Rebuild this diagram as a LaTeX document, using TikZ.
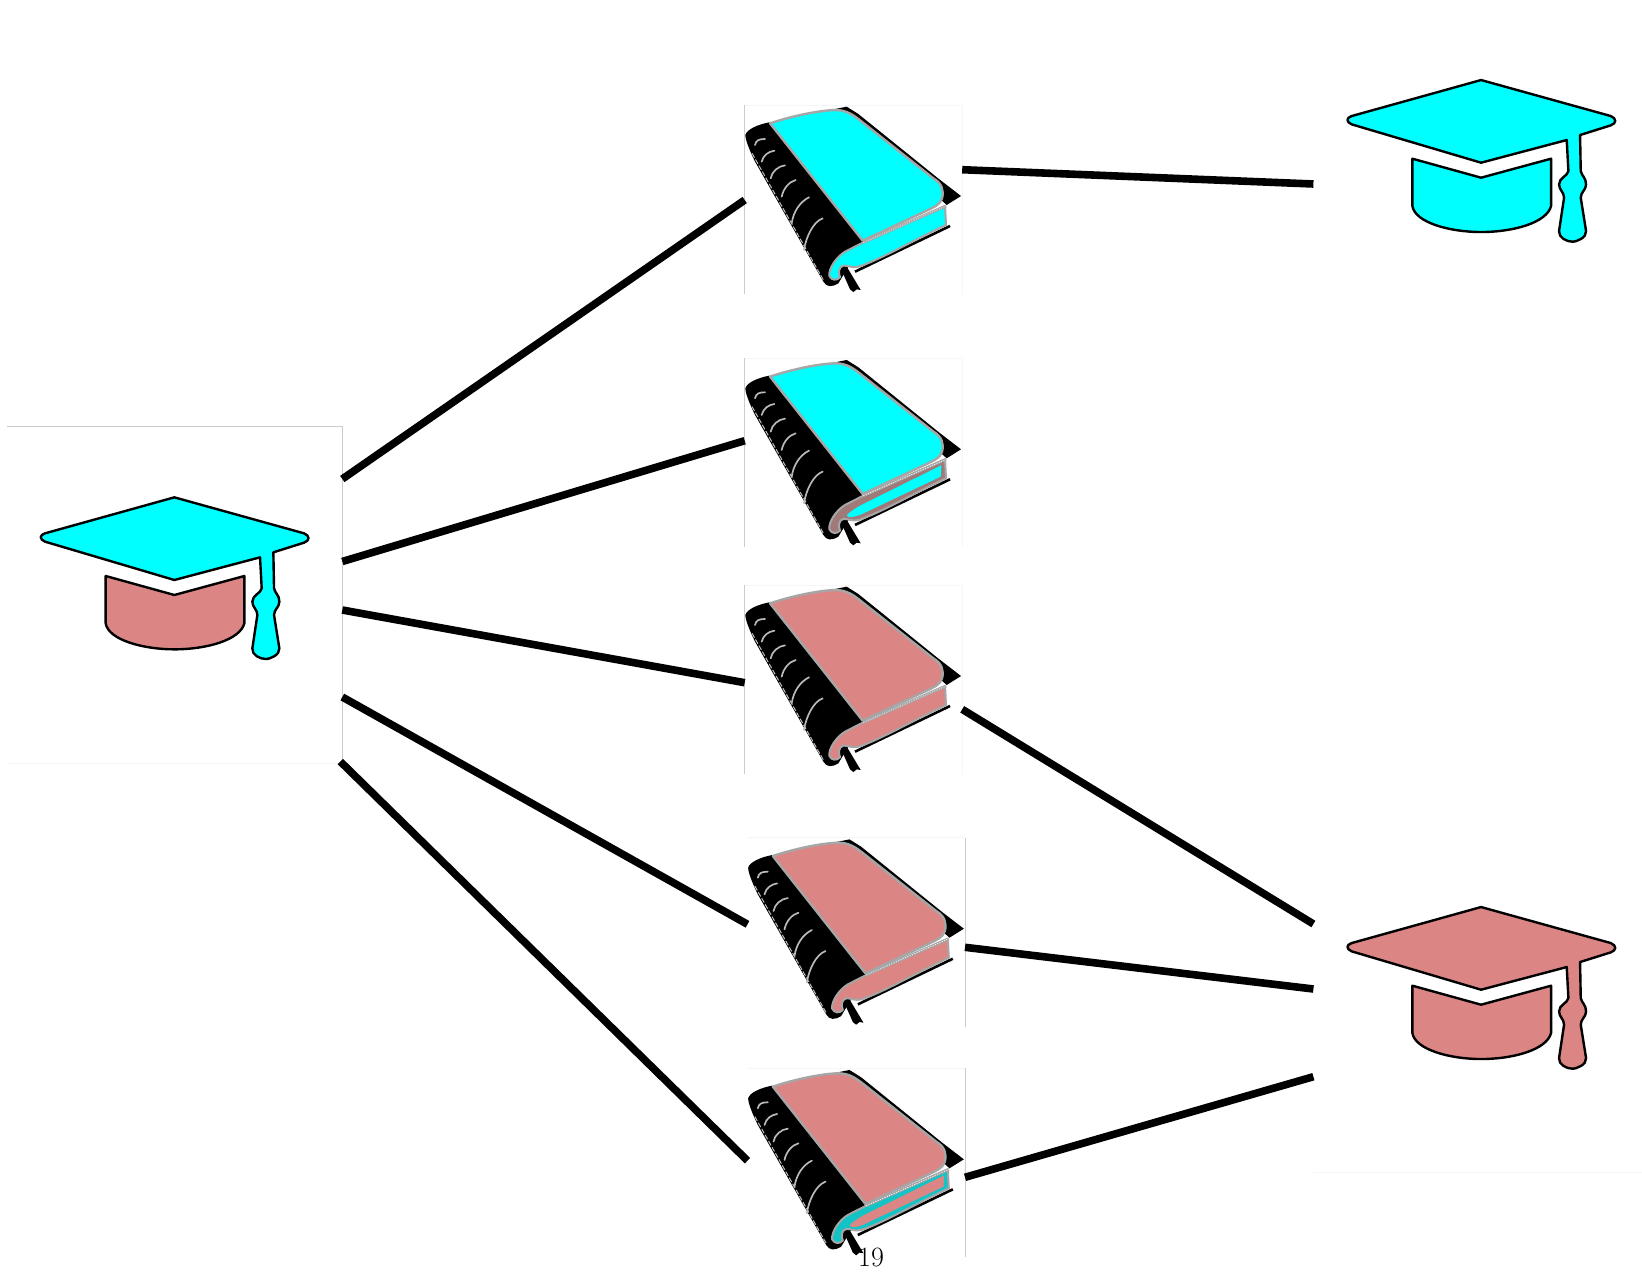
\documentclass[tikz,border=0pt]{standalone}
\usetikzlibrary{calc}
\definecolor{capcyan}{HTML}{00FFFF}
\definecolor{cappink}{HTML}{DC8585}
\definecolor{capbrown}{HTML}{A07A78}
\definecolor{capteal}{HTML}{12C4C6}
\tikzset{
  iconbox/.style={fill=white,draw=none,inner sep=0pt,outer sep=0pt,anchor=north west},
  hatbox/.style={iconbox,minimum height=337pt},
  bookbox/.style={iconbox,minimum width=217.5pt,minimum height=189pt},
  edgeline/.style={draw=gray!40,line width=.8pt},
  faintline/.style={draw=gray!7,line width=.8pt},
  link/.style={draw=black,line width=7.6pt},
  capline/.style={draw=black,line width=2.4pt,line join=round},
  pagenum/.style={font=\fontsize{28}{32}\selectfont,inner sep=0pt}
}
% #1 node, #2 board and tassel colour, #3 base colour
\newcommand{\hatdraw}[3]{%
  \begin{scope}[shift={(#1.north west)},scale=1/3,shift={(-20,-18)}]
    \path[capline,fill=#2] (523,232) -- (912,340) .. controls (930,347) and (930,362) .. (912,368)
      -- (820,397) -- (822,505) .. controls (825,520) and (838,525) .. (838,545)
      .. controls (838,562) and (822,568) .. (822,585) -- (838,685)
      .. controls (840,705) and (810,717) .. (797,717) .. controls (780,717) and (755,705) .. (757,685)
      -- (772,585) .. controls (772,568) and (757,562) .. (757,545)
      .. controls (757,525) and (783,520) .. (785,505) -- (780,412) -- (523,480) -- (135,365)
      .. controls (118,358) and (118,345) .. (135,340) -- cycle;
    \path[capline,fill=#3] (317,468) -- (523,525) -- (733,468) -- (733,610)
      .. controls (720,660) and (620,688) .. (523,688)
      .. controls (430,688) and (325,660) .. (317,610) -- cycle;
  \end{scope}}
% #1 node, #2 cover, #3 outer page, #4 inner page
\newcommand{\bookdraw}[4]{%
  \begin{scope}[shift={(#1.north west)},scale=1/3,shift={(-44,-45)}]
    \fill[black] (118,97) .. controls (85,103) and (50,118) .. (46,135)
      .. controls (45,150) and (65,195) .. (75,215) -- (280,575)
      .. controls (290,592) and (305,592) .. (325,580) -- (400,455) -- cycle;
    \fill[black] (300,60) -- (350,50) -- (385,72) -- (628,268) -- (693,318) -- (650,345) -- (600,300) -- cycle;
    \draw[gray!50,line width=1pt,dash pattern=on 5pt off 2pt] (66,190) -- (280,570);
    \foreach \a/\b/\c/\d/\e/\f/\g/\h in {
      75/165/78/150/88/147/105/147,
      95/215/100/195/115/185/133/182,
      122/265/125/245/145/228/165/226,
      155/320/160/295/178/275/197/270,
      185/400/190/365/210/335/237/322,
      222/480/228/440/250/395/278/385}
      \draw[gray!55,line width=1.7pt,line cap=round] (\a,\b) .. controls (\c,\d) and (\e,\f) .. (\g,\h);
    \draw[black,line width=2.6pt] (375,545) -- (660,408);
    \fill[black] (330,530) -- (350,530) -- (392,600) -- (380,598) -- (370,606) -- (360,598) -- cycle;
    \path[draw=gray!70,line width=2pt,line join=round,fill=#3] (645,348) -- (648,405)
      .. controls (560,445) and (450,510) .. (385,530)
      .. controls (365,535) and (350,525) .. (340,527)
      .. controls (325,530) and (325,550) .. (330,562)
      .. controls (320,572) and (305,572) .. (298,558)
      .. controls (295,535) and (320,500) .. (345,485) -- (398,458) -- cycle;
    \fill[#4] (634,366) -- (632,400) -- (390,515) .. controls (370,522) and (355,525) .. (350,516)
      .. controls (360,505) and (380,492) .. (400,482) -- cycle;
    \draw[gray!70,line width=2.8pt] (400,457) -- (648,348);
    \draw[white,line width=.7pt,dash pattern=on 1pt off 1.5pt] (400,457) -- (648,348);
    \path[draw=gray!70,line width=2.4pt,line join=round,fill=#2] (120,100)
      .. controls (180,80) and (260,62) .. (315,60)
      .. controls (350,60) and (370,75) .. (395,95) -- (610,265)
      .. controls (635,280) and (642,300) .. (636,325)
      .. controls (630,345) and (610,352) .. (590,362) -- (398,452) -- cycle;
  \end{scope}}
\begin{document}
\begin{tikzpicture}[x=1pt,y=-1pt]
  \useasboundingbox (0,0) rectangle (1642,1277);
  \fill[white] (0,0) rectangle (1642,1277);
  % icon frames
  \node[hatbox,minimum width=335.6pt] (hatL) at (6.7,426) {};
  \node[hatbox,minimum width=328.6pt] (hatA) at (1313.4,8.7) {};
  \node[hatbox,minimum width=328.6pt] (hatB) at (1313.4,835.7) {};
  \node[bookbox] (bookA) at (744.7,105) {};
  \node[bookbox] (bookB) at (744.7,358.3) {};
  \node[bookbox] (bookC) at (744.7,585) {};
  \node[bookbox] (bookD) at (747.5,837.7) {};
  \node[bookbox] (bookE) at (747.5,1068.3) {};
  % frame edges
  \draw[edgeline] (hatL.north west) -- (hatL.north east) -- (hatL.south east);
  \draw[faintline] (hatL.south west) -- (hatL.south east);
  \draw[faintline] (hatB.south west) -- (hatB.south east);
  \foreach \n in {bookA,bookB,bookC}{
    \draw[edgeline] (\n.north west) -- (\n.south west);
    \draw[faintline] (\n.north west) -- (\n.north east) -- (\n.south east);
  }
  \foreach \n in {bookD,bookE}{
    \draw[edgeline] (\n.north east) -- (\n.south east);
    \draw[faintline] (\n.north west) -- (\n.north east);
  }
  % connectors
  \draw[link] ($(hatL.north east)+(0,53)$) -- ($(bookA.north west)+(0,95)$);
  \draw[link] ($(hatL.north east)+(0,135.5)$) -- ($(bookB.north west)+(0,82.4)$);
  \draw[link] ($(hatL.north east)+(0,184)$) -- ($(bookC.north west)+(0,97.7)$);
  \draw[link] ($(hatL.north east)+(0,271)$) -- ($(bookD.north west)+(0,86.6)$);
  \draw[link] ($(hatL.south east)+(-2,-1.5)$) -- ($(bookE.north west)+(0,92.4)$);
  \draw[link] ($(bookA.north east)+(0,64.7)$) -- ($(hatA.north west)+(0,175.3)$);
  \draw[link] ($(bookC.north east)+(0,124.3)$) -- ($(hatB.north west)+(0,88.3)$);
  \draw[link] ($(bookD.north east)+(0,109.6)$) -- ($(hatB.north west)+(0,153.3)$);
  \draw[link] ($(bookE.north east)+(0,109)$) -- ($(hatB.north west)+(0,241)$);
  % icons
  \hatdraw{hatL}{capcyan}{cappink}
  \hatdraw{hatA}{capcyan}{capcyan}
  \hatdraw{hatB}{cappink}{cappink}
  \bookdraw{bookA}{capcyan}{capcyan}{capcyan}
  \bookdraw{bookB}{capcyan}{capbrown}{capcyan}
  \bookdraw{bookC}{cappink}{cappink}{cappink}
  \bookdraw{bookD}{cappink}{cappink}{cappink}
  \bookdraw{bookE}{cappink}{capteal}{cappink}
  \node[pagenum] (pageno) at (871,1257) {19};
\end{tikzpicture}
\end{document}
